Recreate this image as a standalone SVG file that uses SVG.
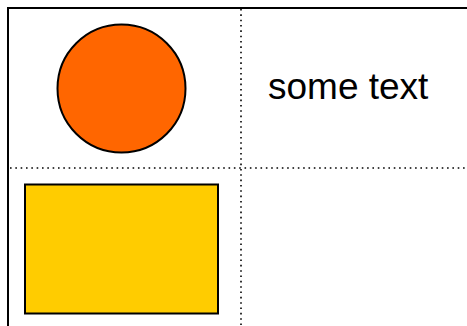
<svg xmlns="http://www.w3.org/2000/svg" width="467" height="326" viewBox="0 0 467 326">
<style>
.frame{fill:none;stroke:#000;stroke-width:2}
.grid{fill:none;stroke:#000;stroke-width:1.6;stroke-dasharray:1.6 3.73}
.shape{stroke:#000;stroke-width:2}
.label{font-family:"Liberation Sans",Arial,sans-serif;font-size:37px;fill:#000}
</style>
<rect width="467" height="326" fill="#fff"/>
<g id="frame">
<path class="frame" d="M8,330 V8 H470"/>
</g>
<g id="connectors">
<line class="grid" x1="241" y1="9" x2="241" y2="326"/>
<line class="grid" x1="10" y1="168" x2="467" y2="168"/>
</g>
<g id="circle"><circle class="shape" cx="121.5" cy="88.5" r="64" fill="#FF6600"/></g>
<g id="rect"><rect class="shape" x="25" y="184.5" width="193" height="129" fill="#FFCC00"/></g>
<g id="text"><text class="label" x="268" y="99">some text</text></g>
</svg>
